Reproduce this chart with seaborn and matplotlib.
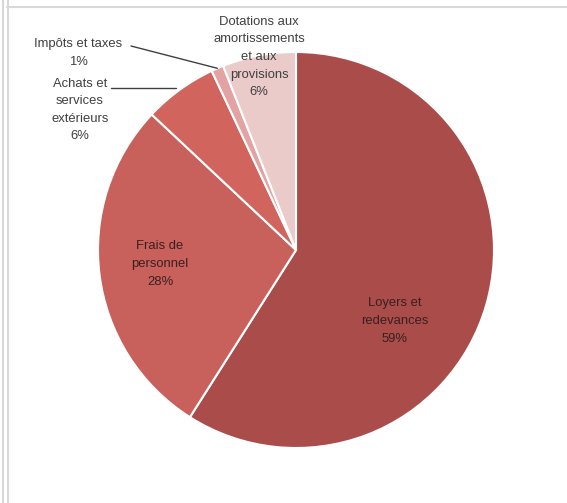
import numpy as np
import matplotlib
matplotlib.use("Agg")
import matplotlib.pyplot as plt
import seaborn as sns
from matplotlib.lines import Line2D

sns.set_theme(style="white")
plt.rcParams['font.family'] = ['Liberation Sans', 'DejaVu Sans']

labels = ["Loyers et\nredevances", "Frais de\npersonnel", "Achats et\nservices\nextérieurs",
          "Impôts et taxes", "Dotations aux\namortissements\net aux\nprovisions"]
values = [59, 28, 6, 1, 6]
colors = ["#A94C4A", "#C8605B", "#D2645E", "#E3A3A3", "#EBCACA"]

W, H = 567, 503
fig = plt.figure(figsize=(W / 100, H / 100), dpi=100)
ax = fig.add_axes([0, 0, 1, 1])

cx, cy, R = 296, H - 250, 198
wedges, _ = ax.pie(values, colors=colors, startangle=90, counterclock=False,
                   center=(cx, cy), radius=R, frame=True,
                   wedgeprops=dict(edgecolor="white", linewidth=1.5))
ax.set_xlim(0, W)
ax.set_ylim(0, H)
ax.set_aspect("equal")
ax.axis("off")

inner_col = "#3a1f1f"
out_col = "#404040"
fs = 9.4
ls = 1.62

# inside labels
ax.text(395, H - 321, f"{labels[0]}\n{values[0]}%", ha="center", va="center",
        fontsize=fs, color=inner_col, linespacing=ls)
ax.text(160, H - 264, f"{labels[1]}\n{values[1]}%", ha="center", va="center",
        fontsize=fs, color=inner_col, linespacing=ls)

# outside labels with leader lines
def edge_point(i):
    w = wedges[i]
    ang = np.deg2rad((w.theta1 + w.theta2) / 2)
    return cx + R * np.cos(ang), cy + R * np.sin(ang)

ex, ey = edge_point(3)
ax.text(78, H - 53, f"{labels[3]}\n{values[3]}%", ha="center", va="center",
        fontsize=fs, color=out_col, linespacing=ls)
ax.plot([131, ex], [H - 46, ey], color="#404040", lw=1)

ex, ey = edge_point(2)
ax.text(80, H - 110, f"{labels[2]}\n{values[2]}%", ha="center", va="center",
        fontsize=fs, color=out_col, linespacing=ls)
ax.plot([111, ex - 4], [H - 88, H - 88], color="#404040", lw=1)

ax.text(259, H - 57, f"{labels[4]}\n{values[4]}%", ha="center", va="center",
        fontsize=fs, color=out_col, linespacing=ls)

# frame lines
for x in (2.5, 7.5):
    fig.add_artist(Line2D([x / W, x / W], [0, 1], color="#d8d8d8", lw=1.5,
                          transform=fig.transFigure))
fig.add_artist(Line2D([7 / W, 1], [1 - 6.5 / H, 1 - 6.5 / H], color="#d8d8d8", lw=1.5,
                      transform=fig.transFigure))

fig.savefig("out.png", dpi=100)
